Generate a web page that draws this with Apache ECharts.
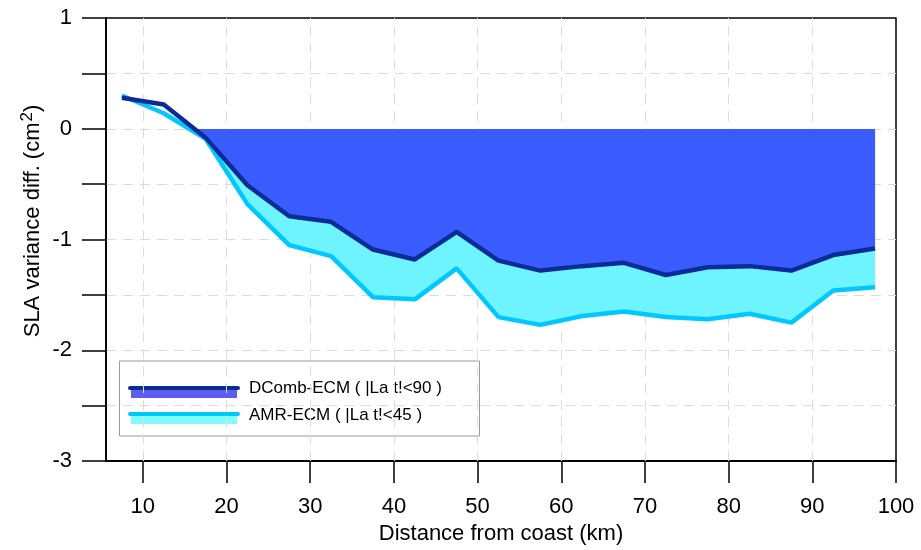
<!DOCTYPE html>
<html>
<head>
<meta charset="utf-8">
<script src="https://cdn.jsdelivr.net/npm/echarts@6/dist/echarts.min.js"></script>
<style>html,body{margin:0;padding:0;background:#fff}#c{width:921px;height:550px}</style>
</head>
<body>
<div id="c"></div>
<script>
const distance = [7.5, 12.5, 17.5, 22.5, 27.5, 32.5, 37.5, 42.5, 47.5, 52.5, 57.5, 62.5, 67.5, 72.5, 77.5, 82.5, 87.5, 92.5, 97.5];
const dcombEcm = [0.28, 0.22, -0.08, -0.51, -0.79, -0.84, -1.09, -1.18, -0.93, -1.19, -1.28, -1.24, -1.21, -1.32, -1.25, -1.24, -1.28, -1.14, -1.08];
const amrEcm = [0.30, 0.14, -0.09, -0.68, -1.05, -1.15, -1.52, -1.54, -1.26, -1.70, -1.77, -1.69, -1.65, -1.70, -1.72, -1.67, -1.75, -1.46, -1.43];
const xTicks = [10, 20, 30, 40, 50, 60, 70, 80, 90, 100];
const seriesNames = ['DComb-ECM ( |La t!<90 )', 'AMR-ECM ( |La t!<45 )'];

const FONT = '"Liberation Sans", Arial, sans-serif';
const darkLine = '#0b2c96';
const lightLine = '#00c8ff';
const blueFill = '#3a5cff';
const cyanFill = '#6ef4ff';

const chart = echarts.init(document.getElementById('c'), null, {renderer: 'canvas'});
const pair = (xs, ys) => xs.map((x, i) => [x, ys[i]]);

function baseOption(fillA, fillB) {
  return {
    animation: false,
    backgroundColor: '#fff',
    grid: {left: 106, right: 25, top: 18, bottom: 88, show: true, borderColor: '#000', borderWidth: 1.5, backgroundColor: 'transparent'},
    xAxis: {
      type: 'value', min: 5.6, max: 100,
      name: 'Distance from coast (km)', nameLocation: 'middle', nameGap: 58,
      nameTextStyle: {fontFamily: FONT, fontSize: 22, color: '#000'},
      axisLine: {show: true, onZero: false, lineStyle: {color: '#000', width: 1.8}},
      axisTick: {show: true, inside: false, length: 22, lineStyle: {color: '#000', width: 1.5}, customValues: xTicks},
      axisLabel: {fontFamily: FONT, fontSize: 22, color: '#000', margin: 35, customValues: xTicks},
      splitLine: {show: false}
    },
    yAxis: {
      type: 'value', min: -3, max: 1, interval: 0.5,
      axisLine: {show: true, onZero: false, lineStyle: {color: '#000', width: 1.8}},
      axisTick: {show: true, inside: false, length: 24, lineStyle: {color: '#000', width: 1.5}},
      axisLabel: {fontFamily: FONT, fontSize: 22, color: '#000', margin: 34,
        formatter: v => (Math.abs(v - Math.round(v)) < 1e-9 ? String(Math.round(v)) : '')},
      splitLine: {show: true, showMinLine: false, showMaxLine: false, lineStyle: {color: '#dcdcdc', width: 1, type: [10, 7]}}
    },
    series: [
      {
        name: seriesNames[1], type: 'line', data: pair(distance, amrEcm),
        showSymbol: false, symbol: 'none',
        lineStyle: {color: lightLine, width: 4.5}, areaStyle: {opacity: 1, color: fillA},
        markLine: {
          silent: true, z: 1, symbol: ['none', 'none'], label: {show: false},
          lineStyle: {color: '#dcdcdc', width: 1, type: [10, 7]},
          data: xTicks.slice(0, -1).map(v => ({xAxis: v}))
        }
      },
      {
        name: seriesNames[0], type: 'line', data: pair(distance, dcombEcm),
        showSymbol: false, symbol: 'none',
        lineStyle: {color: darkLine, width: 4.5}, areaStyle: {opacity: 1, color: fillB}
      }
    ],
    graphic: [
      {type: 'text', x: 33, y: 221, rotation: Math.PI / 2,
       style: {text: '{a|SLA variance diff. (cm}{s|2}{a|)}', align: 'center', verticalAlign: 'middle',
         rich: {a: {fontFamily: FONT, fontSize: 22, fill: '#000'},
                s: {fontFamily: FONT, fontSize: 17, fill: '#000', padding: [0, 0, 12, 1]}}}},
      {type: 'rect', shape: {x: 119.5, y: 361, width: 360, height: 75},
       style: {fill: 'none', stroke: '#9a9a9a', lineWidth: 1}},
      {type: 'rect', shape: {x: 131, y: 389, width: 106, height: 9}, style: {fill: '#5d5df2'}},
      {type: 'line', shape: {x1: 130, y1: 388, x2: 238, y2: 388}, style: {stroke: darkLine, lineWidth: 4, lineCap: 'round'}},
      {type: 'text', x: 249, y: 388, style: {text: seriesNames[0], fontFamily: FONT, fontSize: 17, fill: '#000', verticalAlign: 'middle'}},
      {type: 'rect', shape: {x: 131, y: 415, width: 106, height: 9}, style: {fill: '#82fbff'}},
      {type: 'line', shape: {x1: 130, y1: 414, x2: 238, y2: 414}, style: {stroke: lightLine, lineWidth: 4, lineCap: 'round'}},
      {type: 'text', x: 249, y: 415, style: {text: seriesNames[1], fontFamily: FONT, fontSize: 17, fill: '#000', verticalAlign: 'middle'}}
    ]
  };
}

// first pass to get the scale, then fill only below zero using a global gradient
chart.setOption(baseOption('rgba(0,0,0,0)', 'rgba(0,0,0,0)'));
const H = 550;
const y0 = chart.convertToPixel({yAxisIndex: 0}, 0);
const f = y0 / H;
const grad = c => new echarts.graphic.LinearGradient(0, 0, 0, H, [
  {offset: 0, color: 'rgba(255,255,255,0)'},
  {offset: f, color: 'rgba(255,255,255,0)'},
  {offset: f, color: c},
  {offset: 1, color: c}
], true);
chart.setOption(baseOption(grad(cyanFill), grad(blueFill)), true);
</script>
</body>
</html>
